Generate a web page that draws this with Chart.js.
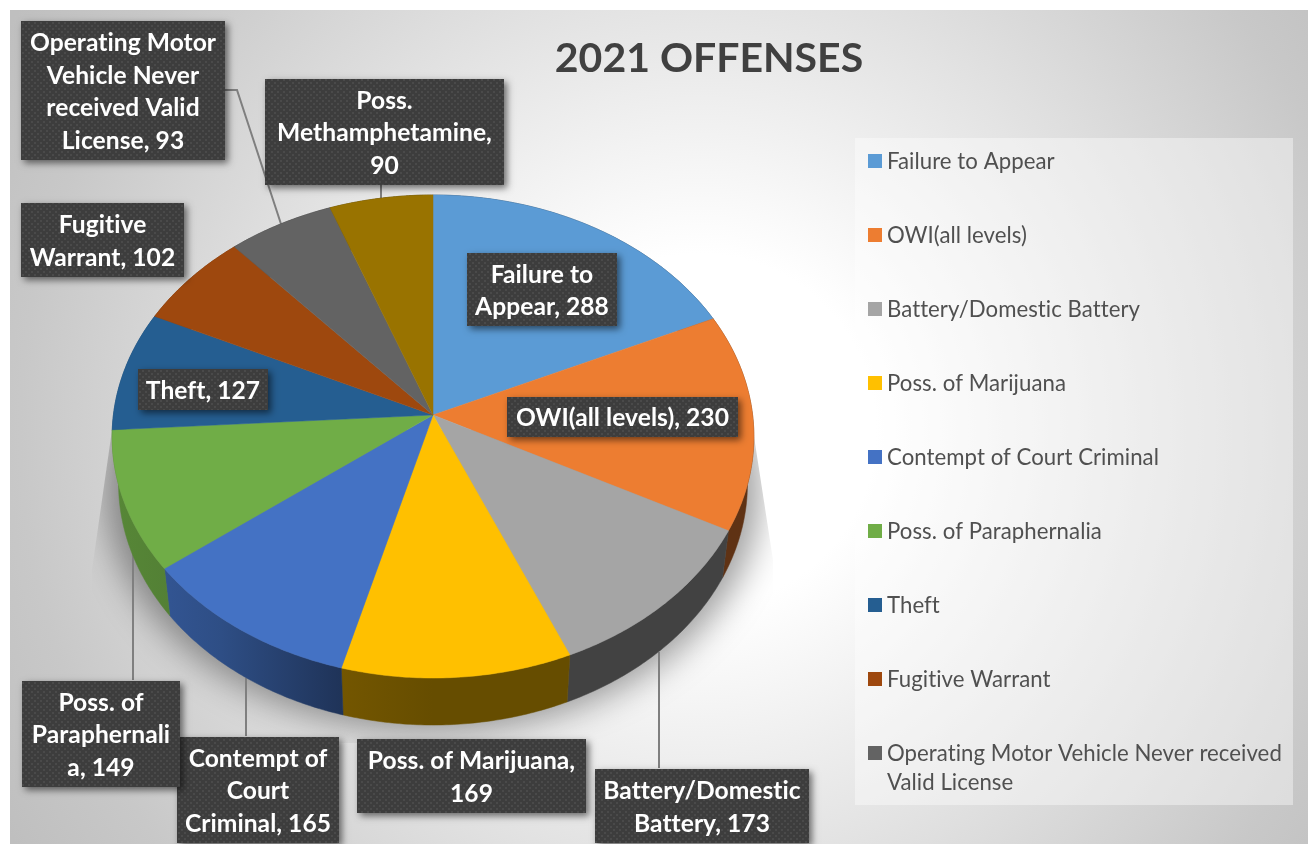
<!DOCTYPE html>
<html>
<head>
<meta charset="utf-8">
<style>html,body{margin:0;padding:0;background:#fff;overflow:hidden}canvas{display:block}</style>
<script src="https://cdn.jsdelivr.net/npm/chart.js@4"></script>
</head>
<body>
<canvas id="c" width="1308" height="844"></canvas>
<script>
const categories = ["Failure to Appear","OWI(all levels)","Battery/Domestic Battery","Poss. of Marijuana","Contempt of Court Criminal","Poss. of Paraphernalia","Theft","Fugitive Warrant","Operating Motor Vehicle Never received Valid License","Poss. Methamphetamine"];
const offenseCounts = [288,230,173,169,165,149,127,102,93,90];
const sliceColors = ["#5B9BD5","#ED7D31","#A5A5A5","#FFC000","#4472C4","#70AD47","#255E91","#9E480E","#636363","#997300"];
const chartTitle = "2021 OFFENSES";
const labelLines = [["Failure to","Appear, 288"],["OWI(all levels), 230"],["Battery/Domestic","Battery, 173"],["Poss. of Marijuana,","169"],["Contempt of","Court","Criminal, 165"],["Poss. of","Paraphernali","a, 149"],["Theft, 127"],["Fugitive","Warrant, 102"],["Operating Motor","Vehicle Never","received Valid","License, 93"],["Poss.","Methamphetamine,","90"]];
const legendLines = [["Failure to Appear"],["OWI(all levels)"],["Battery/Domestic Battery"],["Poss. of Marijuana"],["Contempt of Court Criminal"],["Poss. of Paraphernalia"],["Theft"],["Fugitive Warrant"],["Operating Motor Vehicle Never received","Valid License"]];

/* layout of the annotation boxes: [left, top, right, bottom] */
const labelBoxes = [[467,253,617,326],[507,397,738,437],[595,769,809,843],[357,739,586,813],[177,737,339,843],[22,681,180,787],[138,369,268,410],[21,203,184,277],[21,21,225,160],[265,79,504,185]];
const leaders = [[[225,90],[237,90],[281,224]],[[381,185],[381,198]],[[133,550],[133,680]],[[246,678],[246,736]],[[659,652],[659,768]]];

/* perspective view of the pie disc */
const CX=433, CY=415, K=0.089, AY=239.6, AX=319.6, DEPTH=47, BOTTOM_SCALE=0.98;
function project(a){
  const u=Math.cos(a), v=Math.sin(a), w=1-K*v;
  return [CX+AX*u/w, CY+AY*v/w];
}
function projectBottom(a){
  const p=project(a);
  return [CX+(p[0]-CX)*BOTTOM_SCALE, p[1]+DEPTH];
}
function hex(c){return [1,3,5].map(i=>parseInt(c.substr(i,2),16));}
function shade(c,f){return 'rgb('+hex(c).map(v=>Math.round(v*f)).join(',')+')';}
const wallShades=[[0,0.78],[0.09,0.74],[0.17,0.68],[0.36,0.45],[0.5,0.40],[1,0.40]];

function dotPattern(ctx){
  const p=document.createElement('canvas');p.width=6;p.height=6;
  const g=p.getContext('2d');
  g.fillStyle='#3d3d3d';g.fillRect(0,0,6,6);
  g.fillStyle='#4a4a4a';g.fillRect(1,1,2,2);g.fillRect(4,4,2,2);
  return ctx.createPattern(p,'repeat');
}

const scene3d={
  id:'scene3d',
  beforeDraw(chart){
    const ctx=chart.ctx;
    ctx.save();
    ctx.fillStyle='#fff';ctx.fillRect(0,0,1308,844);
    const g=ctx.createRadialGradient(700,430,0,700,430,800);
    g.addColorStop(0,'#ffffff');g.addColorStop(0.22,'#ffffff');g.addColorStop(0.85,'#c8c8c8');g.addColorStop(1,'#bfbfbf');
    ctx.fillStyle=g;ctx.fillRect(10,10,1298,834);
    ctx.fillStyle='rgba(255,255,255,0.4)';ctx.fillRect(855,138,438,667);
    ctx.restore();
  },
  beforeDatasetDraw(chart,args){
    const ctx=chart.ctx, arcs=chart.getDatasetMeta(args.index).data;
    const N=64;
    ctx.save();
    // cast shadow: only the blurred shadow lands on the page, the casting shape stays off canvas
    ctx.beginPath();
    [[112,430],[92,570],[92,743],[773,743],[773,560],[753,430]].forEach((p,i)=>i?ctx.lineTo(p[0],p[1]):ctx.moveTo(p[0],p[1]));
    ctx.closePath();ctx.clip();
    const OFF=3000;
    ctx.shadowColor='rgba(0,0,0,0.38)';ctx.shadowBlur=34;ctx.shadowOffsetX=OFF;ctx.shadowOffsetY=6;
    ctx.fillStyle='#000';
    ctx.beginPath();
    for(let i=0;i<=180;i++){const p=projectBottom(i/180*2*Math.PI);const x=CX+(p[0]-CX)*1.04-OFF;i?ctx.lineTo(x,p[1]):ctx.moveTo(x,p[1]);}
    ctx.closePath();ctx.fill();
    ctx.restore();

    // leader lines
    ctx.save();
    ctx.strokeStyle='#7f7f7f';ctx.lineWidth=2;
    leaders.forEach(l=>{ctx.beginPath();l.forEach((p,i)=>i?ctx.lineTo(p[0],p[1]):ctx.moveTo(p[0],p[1]));ctx.stroke();});
    ctx.restore();

    // side walls
    arcs.forEach((arc,i)=>{
      const s=arc.startAngle,e=arc.endAngle,col=sliceColors[i];
      const gr=ctx.createLinearGradient(112,0,753,0);
      wallShades.forEach(w=>gr.addColorStop(w[0],shade(col,w[1])));
      ctx.fillStyle=gr;ctx.strokeStyle=gr;ctx.lineWidth=0.5;
      ctx.beginPath();
      for(let j=0;j<=N;j++){const p=project(s+(e-s)*j/N);j?ctx.lineTo(p[0],p[1]):ctx.moveTo(p[0],p[1]);}
      for(let j=N;j>=0;j--){const p=projectBottom(s+(e-s)*j/N);ctx.lineTo(p[0],p[1]);}
      ctx.closePath();ctx.fill();ctx.stroke();
    });
    // top face
    arcs.forEach((arc,i)=>{
      const s=arc.startAngle,e=arc.endAngle;
      ctx.fillStyle=sliceColors[i];ctx.strokeStyle=sliceColors[i];ctx.lineWidth=0.5;
      ctx.beginPath();ctx.moveTo(CX,CY);
      for(let j=0;j<=N;j++){const p=project(s+(e-s)*j/N);ctx.lineTo(p[0],p[1]);}
      ctx.closePath();ctx.fill();ctx.stroke();
    });
    return false;
  },
  afterDraw(chart){
    const ctx=chart.ctx;
    const pat=dotPattern(ctx);
    ctx.save();
    ctx.letterSpacing='0.05px';
    // legend
    ctx.font='22.2px Lato';ctx.textBaseline='middle';ctx.textAlign='left';
    legendLines.forEach((lines,i)=>{
      const y=161+74*i;
      ctx.fillStyle=sliceColors[i];ctx.fillRect(868,y-7,14,14);
      ctx.fillStyle='#505050';
      lines.forEach((t,j)=>ctx.fillText(t,887,y+1+29*j));
    });
    // data labels
    labelBoxes.forEach((b,i)=>{
      ctx.save();
      ctx.shadowColor='rgba(0,0,0,0.55)';ctx.shadowBlur=7;ctx.shadowOffsetX=3;ctx.shadowOffsetY=3;
      ctx.fillStyle='#3d3d3d';ctx.fillRect(b[0],b[1],b[2]-b[0],b[3]-b[1]);
      ctx.restore();
      ctx.fillStyle=pat;ctx.fillRect(b[0],b[1],b[2]-b[0],b[3]-b[1]);
      ctx.fillStyle='#fff';ctx.font='bold 24.6px Lato';ctx.textAlign='center';ctx.textBaseline='middle';
      const L=labelLines[i],lh=32.5,cx=(b[0]+b[2])/2,cy=(b[1]+b[3])/2+1.5;
      L.forEach((t,j)=>ctx.fillText(t,cx,cy+(j-(L.length-1)/2)*lh));
    });
    ctx.restore();
  }
};

new Chart(document.getElementById('c'),{
  type:'pie',
  data:{labels:categories,datasets:[{data:offenseCounts,backgroundColor:sliceColors,borderWidth:0}]},
  options:{
    responsive:false,animation:false,
    layout:{padding:{left:110}},
    plugins:{
      legend:{display:false},tooltip:{enabled:false},
      title:{display:true,text:chartTitle,color:'#404040',font:{family:'Lato',size:41,weight:'bold'},padding:{top:34,bottom:0}}
    }
  },
  plugins:[scene3d]
});
</script>
</body>
</html>
